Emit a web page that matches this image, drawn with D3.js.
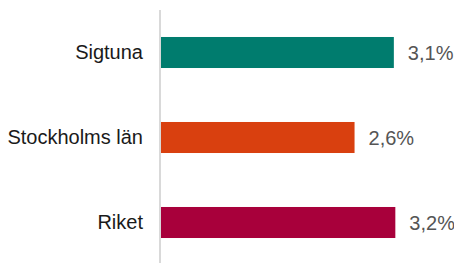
<!DOCTYPE html>
<html>
<head>
<meta charset="utf-8">
<script src="https://cdn.jsdelivr.net/npm/d3@7"></script>
<style>
  body { margin: 0; background: #fff; }
  svg { display: block; font-family: "Liberation Sans", Arial, sans-serif; }
</style>
</head>
<body>
<div id="chart"></div>
<script>
// Data
var categories = ["Sigtuna", "Stockholms län", "Riket"];
var values = [3.14, 2.61, 3.16];
var colors = ["#007c6e", "#d9400f", "#a8003b"];

var width = 454, height = 263;
var margin = {top: 10, right: 20, bottom: 0, left: 161};

var svg = d3.select("#chart").append("svg")
    .attr("width", width)
    .attr("height", height);

// Scales
var x = d3.scaleLinear()
    .domain([0, 3.2])
    .range([margin.left, margin.left + 237.3]);

var y = d3.scaleBand()
    .domain(categories)
    .range([margin.top, height + 2])
    .paddingInner(0.635)
    .paddingOuter(0.3175);

var fmt = function (v) { return d3.format(".1f")(v).replace(".", ",") + "%"; };

// Bars
svg.selectAll("rect.bar")
    .data(categories)
    .enter().append("rect")
    .attr("class", "bar")
    .attr("x", x(0))
    .attr("y", function (d) { return y(d); })
    .attr("width", function (d, i) { return x(values[i]) - x(0); })
    .attr("height", y.bandwidth())
    .attr("fill", function (d, i) { return colors[i]; });

// Value labels
svg.selectAll("text.val")
    .data(categories)
    .enter().append("text")
    .attr("class", "val")
    .attr("x", function (d, i) { return x(values[i]) + 14; })
    .attr("y", function (d) { return y(d) + y.bandwidth() / 2; })
    .attr("dy", "0.35em")
    .attr("fill", "#555")
    .style("font-size", "20px")
    .text(function (d, i) { return fmt(values[i]); });

// Y axis (category labels + line)
var yAxis = svg.append("g")
    .attr("transform", "translate(160,0)")
    .call(d3.axisLeft(y).tickSize(0).tickPadding(17));

yAxis.select(".domain").remove();
yAxis.selectAll("text")
    .attr("fill", "#1a1a1a")
    .style("font-size", "20px")
    .style("font-family", "'Liberation Sans', Arial, sans-serif");

svg.append("line")
    .attr("x1", 160).attr("x2", 160)
    .attr("y1", margin.top).attr("y2", height)
    .attr("stroke", "#d9d9d9")
    .attr("stroke-width", 2);
</script>
</body>
</html>
